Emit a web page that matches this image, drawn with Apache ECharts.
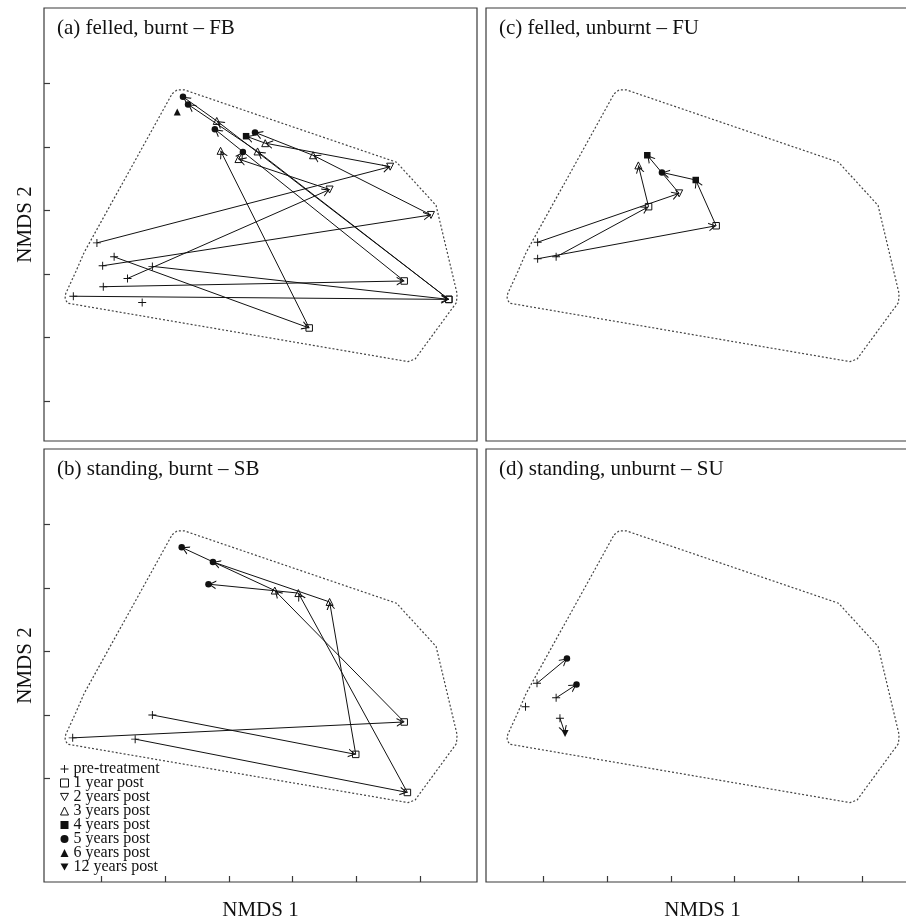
<!DOCTYPE html>
<html><head><meta charset="utf-8">
<script src="https://cdn.jsdelivr.net/npm/echarts@6/dist/echarts.min.js"></script>
<style>html,body{margin:0;padding:0;background:#fff}#chart{width:906px;height:917px}</style>
</head><body><div id="chart"></div>
<script>
// ---------- data ----------
const stageKeys = [0, 1, 2, 3, 4, 5, 6, 12];
const stageLabels = ['pre-treatment', '1 year post', '2 years post', '3 years post',
  '4 years post', '5 years post', '6 years post', '12 years post'];
const panelTitles = ['(a) felled, burnt – FB', '(b) standing, burnt – SB',
  '(c) felled, unburnt – FU', '(d) standing, unburnt – SU'];
const xTickValues = [1, 2, 3, 4, 5, 6];
const yTickValuesTop = [1, 2, 3, 4, 5, 6];
const yTickValuesBottom = [2, 3, 4, 5, 6];
// convex hull of all plots (NMDS1, NMDS2)
const hullNMDS1 = [2.11, 2.19, 2.30, 5.63, 6.25, 6.58, 6.57, 5.92, 5.81, 0.47, 0.43, 0.44, 0.60, 0.73, 2.11];
const hullNMDS2 = [5.84, 5.90, 5.90, 4.76, 4.08, 2.69, 2.55, 1.66, 1.62, 2.54, 2.61, 2.69, 3.04, 3.34, 5.84];
// trajectories: [NMDS1, NMDS2, years post-treatment (0 = pre-treatment)]
const fbTrajectories = [
  [[0.93, 3.49, 0], [5.53, 4.69, 2], [3.57, 5.06, 3], [3.27, 5.17, 4]],
  [[1.02, 3.13, 0], [6.17, 3.93, 2], [4.32, 4.87, 3], [3.41, 5.23, 5]],
  [[1.41, 2.93, 0], [4.58, 4.33, 2], [3.15, 4.81, 3], [3.22, 4.92, 5]],
  [[1.20, 3.27, 0], [4.26, 2.15, 1], [2.87, 4.94, 3]],
  [[1.80, 3.12, 0], [6.45, 2.60, 1], [2.81, 5.41, 3], [2.28, 5.79, 5]],
  [[0.56, 2.65, 0], [6.45, 2.60, 1], [3.45, 4.93, 3], [2.36, 5.67, 5]],
  [[1.03, 2.80, 0], [5.75, 2.89, 1], [2.78, 5.28, 5]],
  [[1.64, 2.55, 0]],
  [[2.19, 5.55, 6]]
];
const sbTrajectories = [
  [[0.55, 2.64, 0], [5.75, 2.89, 1], [3.72, 4.96, 3], [2.26, 5.64, 5]],
  [[1.53, 2.62, 0], [5.80, 1.78, 1], [4.09, 4.92, 3], [2.68, 5.06, 5]],
  [[1.80, 3.00, 0], [4.99, 2.38, 1], [4.58, 4.78, 3], [2.75, 5.41, 5]]
];
const fuTrajectories = [
  [[0.91, 3.50, 0], [3.13, 4.27, 2], [2.63, 4.87, 4]],
  [[1.20, 3.27, 0], [2.65, 4.06, 1], [2.49, 4.71, 3]],
  [[0.91, 3.24, 0], [3.71, 3.76, 1], [3.39, 4.48, 4], [2.86, 4.60, 5]]
];
const suTrajectories = [
  [[0.90, 3.50, 0], [1.37, 3.89, 5]],
  [[1.20, 3.27, 0], [1.52, 3.48, 5]],
  [[1.26, 2.95, 0], [1.34, 2.71, 12]],
  [[0.72, 3.13, 0]]
];

// ---------- styling / layout ----------
const FONT = 'Liberation Serif';
const INK = '#111';
const PLUS = 'path://M4.4,0H5.6V4.4H10V5.6H5.6V10H4.4V5.6H0V4.4H4.4Z';
const DOWN = 'path://M0,0L10,0L5,9Z';
// open arrowhead whose tip sits at the symbol centre (tiny anchors fix the bounding box)
const ARROW = 'path://M10,10L15.77,20L14.2,20L10,12.7L5.8,20L4.23,20Z' +
  'M0,0L0.02,0L0,0.02ZM20,0L19.98,0L20,0.02Z';
const stageStyle = {
  0: {symbol: PLUS, size: 8, fill: true, rotate: 0},
  1: {symbol: 'rect', size: 6.5, fill: false, rotate: 0},
  2: {symbol: 'triangle', size: 7, fill: false, rotate: 180},
  3: {symbol: 'triangle', size: 7, fill: false, rotate: 0},
  4: {symbol: 'rect', size: 6.5, fill: true, rotate: 0},
  5: {symbol: 'circle', size: 6.5, fill: true, rotate: 0},
  6: {symbol: 'triangle', size: 7, fill: true, rotate: 0},
  12: {symbol: 'triangle', size: 7, fill: true, rotate: 180}
};
const legendIcon = {0: PLUS, 1: 'rect', 2: DOWN, 3: 'triangle', 4: 'rect', 5: 'circle', 6: 'triangle', 12: DOWN};
const openStyle = {color: 'rgba(255,255,255,0)', borderColor: INK, borderWidth: 1, opacity: 1};
const fillStyle = {color: INK, borderWidth: 0, opacity: 1};

const panels = [
  {traj: fbTrajectories, left: 44, top: 8, xTicks: null, yTicks: yTickValuesTop, xName: '', yName: 'NMDS 2'},
  {traj: sbTrajectories, left: 44, top: 449, xTicks: xTickValues, yTicks: yTickValuesBottom, xName: 'NMDS 1', yName: 'NMDS 2'},
  {traj: fuTrajectories, left: 486, top: 8, xTicks: null, yTicks: null, xName: '', yName: ''},
  {traj: suTrajectories, left: 486, top: 449, xTicks: xTickValues, yTicks: null, xName: 'NMDS 1', yName: ''}
];
const SIZE = 433;
const X_MIN = 0.1, X_MAX = 0.1 + SIZE / 63.75;
const Y_MIN = 0.37, Y_MAX = 0.37 + SIZE / 63.5;

const grid = [], xAxis = [], yAxis = [], series = [], title = [];
const hullData = hullNMDS1.map((x, i) => [x, hullNMDS2[i]]);

panels.forEach((p, i) => {
  grid.push({left: p.left, top: p.top, width: SIZE, height: SIZE, show: true,
    borderColor: '#3a3a3a', borderWidth: 1.2, backgroundColor: 'transparent',
    containLabel: false, outerBoundsMode: 'none'});
  const nameStyle = {fontFamily: FONT, fontSize: 21, color: INK};
  xAxis.push({type: 'value', gridIndex: i, min: X_MIN, max: X_MAX,
    axisLine: {show: false}, splitLine: {show: false}, axisLabel: {show: false},
    axisTick: p.xTicks ? {show: true, inside: true, length: 6, customValues: p.xTicks,
      lineStyle: {color: '#3a3a3a', width: 1.2}} : {show: false},
    name: p.xName, nameLocation: 'middle', nameGap: 18, nameTextStyle: nameStyle});
  yAxis.push({type: 'value', gridIndex: i, min: Y_MIN, max: Y_MAX,
    axisLine: {show: false}, splitLine: {show: false}, axisLabel: {show: false},
    axisTick: p.yTicks ? {show: true, inside: true, length: 6, customValues: p.yTicks,
      lineStyle: {color: '#3a3a3a', width: 1.2}} : {show: false},
    name: p.yName, nameLocation: 'middle', nameGap: 8, nameTextStyle: nameStyle});
  title.push({text: panelTitles[i], left: p.left + 13, top: p.top + 10, padding: 0,
    textStyle: {fontFamily: FONT, fontSize: 21, fontWeight: 'normal', color: INK}});

  // convex hull
  series.push({type: 'line', xAxisIndex: i, yAxisIndex: i, data: hullData,
    symbol: 'none', silent: true, z: 1, animation: false,
    lineStyle: {color: '#444', width: 1.2, type: [2, 2]}});

  // trajectory segments with arrowheads
  const segs = [];
  p.traj.forEach(t => {
    for (let k = 1; k < t.length; k++) {
      segs.push({coords: [[t[k - 1][0], t[k - 1][1]], [t[k][0], t[k][1]]]});
    }
  });
  if (segs.length) {
    series.push({type: 'lines', coordinateSystem: 'cartesian2d', xAxisIndex: i, yAxisIndex: i,
      data: segs, symbol: ['none', ARROW], symbolSize: 15, z: 2, silent: true,
      lineStyle: {color: INK, width: 1, opacity: 1, curveness: 0}});
  }

  // markers per stage
  stageKeys.forEach((s, si) => {
    const pts = [];
    p.traj.forEach(t => t.forEach(pt => { if (pt[2] === s) pts.push([pt[0], pt[1]]); }));
    if (!pts.length) return;
    const st = stageStyle[s];
    series.push({type: 'scatter', name: stageLabels[si], xAxisIndex: i, yAxisIndex: i,
      data: pts, symbol: st.symbol, symbolSize: st.size, symbolRotate: st.rotate, z: 3, silent: true,
      itemStyle: st.fill ? fillStyle : openStyle});
  });
});

const legendData = stageKeys.map((s, si) => ({
  name: stageLabels[si], icon: legendIcon[s],
  itemStyle: stageStyle[s].fill ? fillStyle : openStyle
}));

const chart = echarts.init(document.getElementById('chart'), null, {renderer: 'canvas'});
chart.setOption({
  animation: false,
  backgroundColor: '#fff',
  title: title,
  grid: grid, xAxis: xAxis, yAxis: yAxis,
  legend: {data: legendData, orient: 'vertical', left: 60, top: 761, padding: 0,
    itemWidth: 8, itemHeight: 8, itemGap: -2, selectedMode: false,
    textStyle: {fontFamily: FONT, fontSize: 16, color: INK, padding: [0, 0, 0, 0]}},
  series: series
});
</script></body></html>
